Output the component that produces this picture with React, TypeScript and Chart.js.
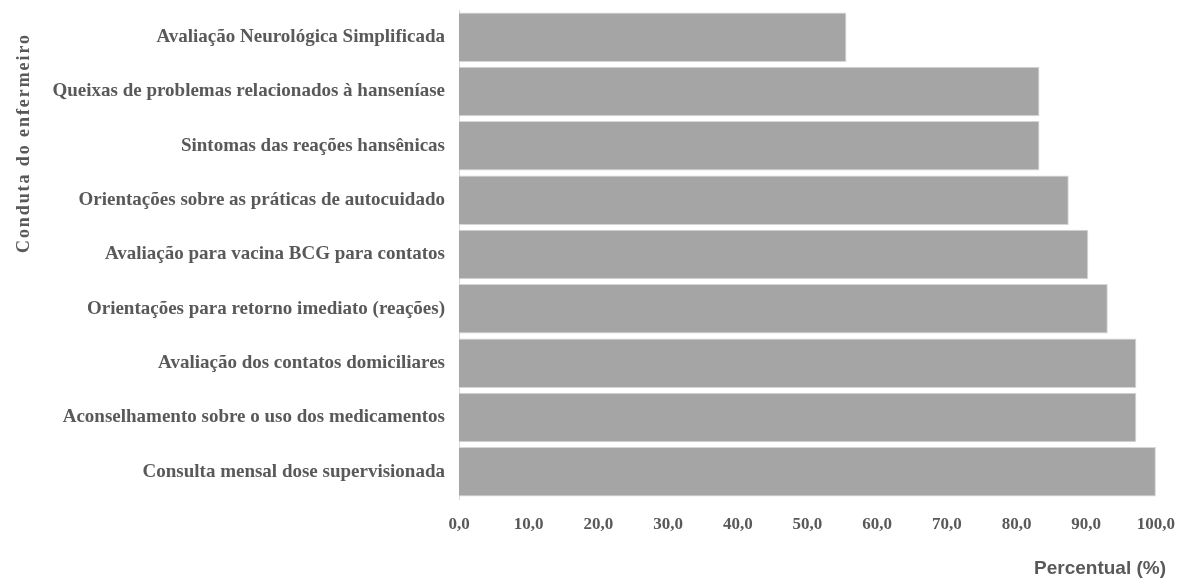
import React, { useEffect, useRef } from "react";
import { Chart, registerables } from "chart.js";

Chart.register(...registerables);

const categories: string[] = [
  "Avaliação Neurológica Simplificada",
  "Queixas de problemas relacionados à hanseníase",
  "Sintomas das reações hansênicas",
  "Orientações sobre as práticas de autocuidado",
  "Avaliação para vacina BCG para contatos",
  "Orientações para retorno imediato (reações)",
  "Avaliação dos contatos domiciliares",
  "Aconselhamento sobre o uso dos medicamentos",
  "Consulta mensal dose supervisionada",
];

const percentual: number[] = [55.6, 83.3, 83.3, 87.5, 90.3, 93.1, 97.2, 97.2, 100.0];

const xTickValues: number[] = [0, 10, 20, 30, 40, 50, 60, 70, 80, 90, 100];

const yTitle = "Conduta do enfermeiro";
const xTitle = "Percentual (%)";

const TEXT = "#595959";

const titlesPlugin = {
  id: "titlesPlugin",
  afterDraw(chart: any) {
    const ctx = chart.ctx as CanvasRenderingContext2D;
    // y axis title
    ctx.save();
    ctx.font = "bold 18px 'Liberation Serif', serif";
    ctx.fillStyle = TEXT;
    const target = 218;
    const w = ctx.measureText(yTitle).width;
    const ls = Math.max(0, (target - w) / (yTitle.length - 1));
    (ctx as any).letterSpacing = ls + "px";
    ctx.translate(24, 144);
    ctx.rotate(-Math.PI / 2);
    ctx.textAlign = "center";
    ctx.textBaseline = "middle";
    ctx.fillText(yTitle, ls / 2, 0);
    ctx.restore();
    // x axis title
    ctx.save();
    ctx.font = "bold 19px 'Liberation Sans', Arial, sans-serif";
    ctx.fillStyle = TEXT;
    ctx.textAlign = "right";
    ctx.textBaseline = "alphabetic";
    ctx.fillText(xTitle, 1166, 574);
    ctx.restore();
  },
};

export default function App() {
  const ref = useRef<HTMLCanvasElement | null>(null);

  useEffect(() => {
    if (!ref.current) return;
    const chart = new Chart(ref.current, {
      type: "bar",
      data: {
        labels: categories,
        datasets: [
          {
            data: percentual,
            backgroundColor: "#a5a5a5",
            borderColor: "#d6d6d6",
            borderWidth: 1,
            barPercentage: 0.91,
            categoryPercentage: 1,
          },
        ],
      },
      options: {
        indexAxis: "y",
        responsive: false,
        animation: false,
        devicePixelRatio: 1,
        layout: { padding: { left: 0, right: 32, top: 10, bottom: 0 } },
        plugins: {
          legend: { display: false },
          tooltip: { enabled: false },
          title: { display: false },
        },
        scales: {
          y: {
            type: "category",
            grid: { display: false, drawTicks: false },
            border: { display: true, color: "#d9d9d9", width: 1 },
            ticks: {
              color: TEXT,
              padding: 14,
              font: { family: "'Liberation Serif', serif", size: 19, weight: "bold" },
            },
            afterFit: (s: any) => {
              s.width = 459;
              s.paddingTop = 0;
              s.paddingBottom = 0;
            },
          },
          x: {
            type: "linear",
            min: 0,
            max: 100,
            grid: { display: false, drawTicks: false },
            border: { display: false },
            afterBuildTicks: (s: any) => {
              s.ticks = xTickValues.map((v) => ({ value: v }));
            },
            ticks: {
              color: TEXT,
              padding: 15,
              font: { family: "'Liberation Serif', serif", size: 17, weight: "bold" },
              callback: (v: any) => Number(v).toFixed(1).replace(".", ","),
            },
            afterFit: (s: any) => {
              s.height = 80;
            },
          },
        },
      },
      plugins: [titlesPlugin],
    } as any);
    return () => chart.destroy();
  }, []);

  return (
    <div style={{ position: "absolute", left: 0, top: 0, width: 1190, height: 579, background: "#ffffff" }}>
      <canvas ref={ref} width={1190} height={579} style={{ display: "block" }} />
    </div>
  );
}
